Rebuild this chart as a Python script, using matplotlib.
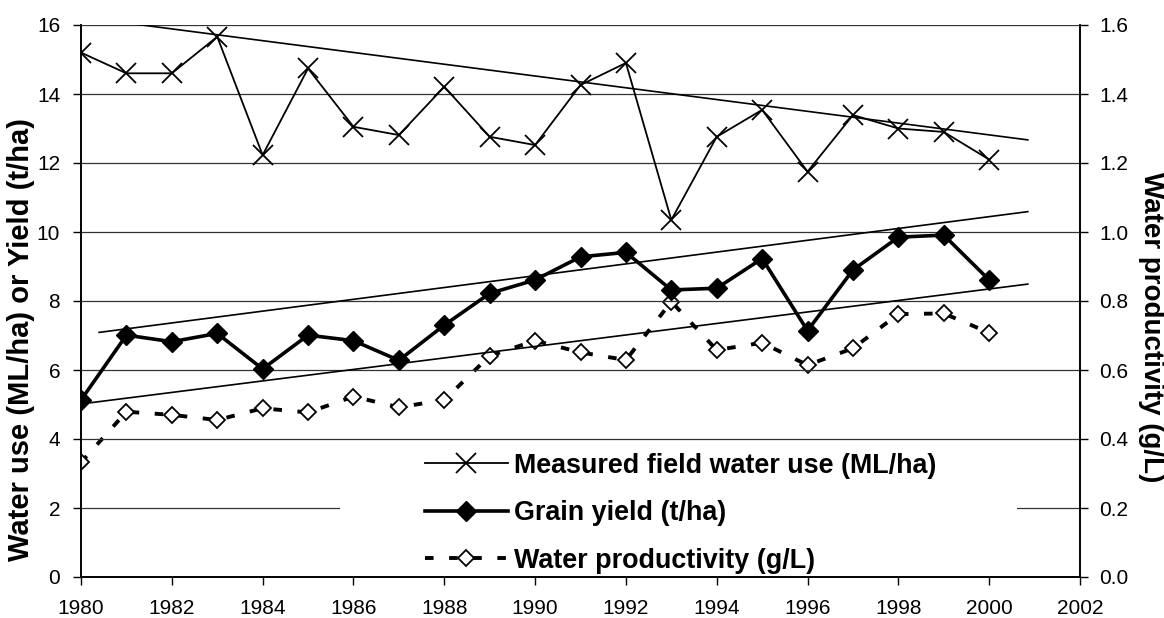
import matplotlib
matplotlib.use("Agg")
import matplotlib.pyplot as plt
from matplotlib.patches import Rectangle

plt.rcParams['font.family'] = ['Liberation Sans', 'DejaVu Sans']

years = list(range(1980, 2001))
water_use = [15.2, 14.6, 14.6, 15.66, 12.23, 14.74, 13.05, 12.81, 14.21, 12.76, 12.52,
             14.26, 14.9, 10.35, 12.76, 13.54, 11.75, 13.39, 13.0, 12.9, 12.1]
grain_yield = [5.13, 7.01, 6.82, 7.06, 6.03, 7.01, 6.85, 6.28, 7.30, 8.22, 8.61,
               9.28, 9.41, 8.32, 8.37, 9.23, 7.14, 8.90, 9.85, 9.91, 8.61]
water_prod = [0.332, 0.479, 0.470, 0.455, 0.489, 0.477, 0.523, 0.492, 0.513, 0.641, 0.685,
              0.651, 0.629, 0.798, 0.658, 0.679, 0.614, 0.663, 0.762, 0.764, 0.708]

# hand drawn trend lines (start/end on the left axis scale)
trend_x = [1980.4, 2000.85]
trend_use = [16.16, 12.67]
trend_yield = [7.09, 10.59]
trend_low_x = [1980.2, 2000.85]
trend_low = [5.05, 8.49]

fig = plt.figure(figsize=(11.64, 6.18), dpi=100)
ax = fig.add_axes([81 / 1164, 1 - 577 / 618, 999 / 1164, 552 / 618])
ax2 = ax.twinx()
ax2.set_zorder(ax.get_zorder() - 1)
ax.patch.set_visible(False)

ax.set_xlim(1980, 2002)
ax.set_ylim(0, 16)
ax2.set_ylim(0, 1.6)
ax.set_xticks(range(1980, 2003, 2))
ax.set_yticks(range(0, 17, 2))
ax2.set_yticks([i / 10 for i in range(0, 17, 2)])
ax2.set_yticklabels([f"{i / 10:.1f}" for i in range(0, 17, 2)])

ax.yaxis.grid(True, color='0.2', lw=0.9)
ax.spines['top'].set_visible(False)
ax2.spines['top'].set_visible(False)
for a in (ax, ax2):
    a.tick_params(labelsize=15, length=6, width=1, direction='out', color='black')
    for s in a.spines.values():
        s.set_linewidth(1.2)
ax.tick_params(axis='x', pad=10)
ax.tick_params(axis='y', pad=9)
ax2.tick_params(axis='y', pad=8)

# white legend area hiding grid lines
ax.add_patch(Rectangle((0.259, 0.008), 0.678, 0.21, transform=ax.transAxes,
                       facecolor='white', edgecolor='none', zorder=1.6))

ax.plot(trend_x, trend_use, color='black', lw=1.2, zorder=2)
ax.plot(trend_x, trend_yield, color='black', lw=1.2, zorder=2)
ax.plot(trend_low_x, trend_low, color='black', lw=1.2, zorder=2)

l1, = ax.plot(years, water_use, color='black', lw=1.3, marker='x', ms=14, mew=1.3,
              zorder=3)
l2, = ax.plot(years, grain_yield, color='black', lw=2.6, marker='D', ms=10,
              mfc='black', mec='black', zorder=4)
l3, = ax2.plot(years, water_prod, color='black', lw=2.8, dashes=(2.2, 4), marker='D',
               ms=8.5, mfc='white', mec='black', mew=1.3)

ax.set_ylabel("Water use (ML/ha) or Yield (t/ha)", fontsize=21, fontweight='bold')
ax.yaxis.set_label_coords(-0.046, 0.431)
ax2.set_ylabel("Water productivity (g/L)", fontsize=20, fontweight='bold',
               rotation=270, va='bottom')
ax2.yaxis.set_label_coords(1.058, 0.453)

ax.legend([l1, l2, l3],
          ["Measured field water use (ML/ha)", "Grain yield (t/ha)",
           "Water productivity (g/L)"],
          loc='upper left', bbox_to_anchor=(0.344, 0.225), frameon=False,
          borderpad=0, borderaxespad=0, handlelength=3.1, handletextpad=0.2,
          labelspacing=0.8, prop={'weight': 'bold', 'size': 19.4})

fig.savefig("out.png", dpi=100)
